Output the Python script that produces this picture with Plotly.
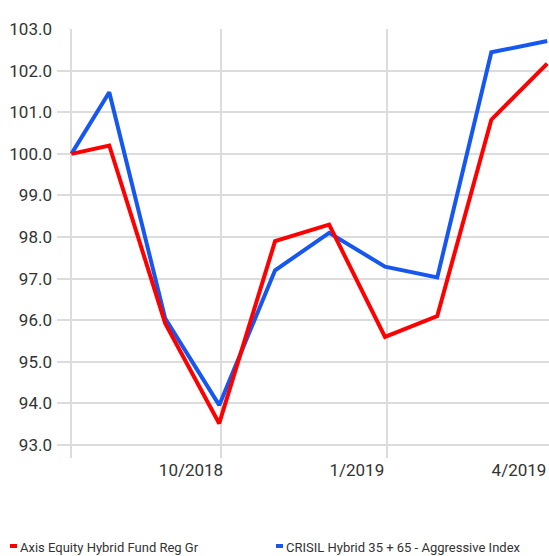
import plotly.graph_objects as go

dates = ["2018-07-10", "2018-07-31", "2018-08-31", "2018-09-30", "2018-10-31",
         "2018-11-30", "2018-12-31", "2019-01-29", "2019-02-28", "2019-03-31"]
fund = [100.0, 100.2, 95.93, 93.52, 97.9, 98.3, 95.6, 96.1, 100.82, 102.17]
index = [100.0, 101.48, 96.05, 93.96, 97.2, 98.1, 97.29, 97.03, 102.44, 102.71]
fund_name = "Axis Equity Hybrid Fund Reg Gr"
index_name = "CRISIL Hybrid 35 + 65 - Aggressive Index"
x_tickvals = ["2018-07-10", "2018-10-01", "2019-01-01", "2019-04-01"]
x_ticktext = ["", "10/2018", "1/2019", "4/2019"]
y_tickvals = [93, 94, 95, 96, 97, 98, 99, 100, 101, 102, 103]

RED = "#ff0000"
BLUE = "#1657f0"
FONT = "Roboto, sans-serif"
TXT = "#333333"

fig = go.Figure()
fig.add_trace(go.Scatter(x=dates, y=index, mode="lines", name=index_name,
                         line=dict(color=BLUE, width=4), showlegend=False))
fig.add_trace(go.Scatter(x=dates, y=fund, mode="lines", name=fund_name,
                         line=dict(color=RED, width=4), showlegend=False))

fig.update_layout(
    width=549, height=556,
    margin=dict(l=57, r=0, t=29, b=98),
    paper_bgcolor="white", plot_bgcolor="white",
    font=dict(family=FONT, size=17, color=TXT),
)
fig.update_xaxes(
    type="date", range=["2018-07-02", "2019-04-01"],
    tickvals=x_tickvals, ticktext=x_ticktext,
    showgrid=True, gridcolor="#dcdcdc", gridwidth=2,
    zeroline=False, showline=False, ticks="",
    ticklabelshift=-30, tickfont=dict(size=17, family=FONT, color=TXT),
)
fig.update_yaxes(
    range=[92.69, 103.0], tickvals=y_tickvals, tickformat=".1f",
    showgrid=True, gridcolor="#dcdcdc", gridwidth=2,
    zeroline=False, showline=False, ticks="",
    ticklabelstandoff=4,
    tickfont=dict(size=17, family=FONT, color=TXT),
)

legend_items = [(fund_name, RED, 10), (index_name, BLUE, 276)]
for name, color, px in legend_items:
    fig.add_shape(type="rect", xref="paper", yref="paper",
                  x0=(px - 57) / 492, x1=(px - 57 + 7) / 492,
                  y0=(556 - 98 - 548) / 429, y1=(556 - 98 - 544) / 429,
                  fillcolor=color, line=dict(width=0))
    fig.add_annotation(text=name, xref="paper", yref="paper",
                       x=(px - 57 + 8) / 492, y=(556 - 98 - 547) / 429,
                       xanchor="left", yanchor="middle", showarrow=False,
                       font=dict(size=13, family=FONT, color=TXT))

fig.write_html("out.html", config={"displayModeBar": False},
               post_script="document.body.style.margin='0';document.body.style.overflow='hidden';")
